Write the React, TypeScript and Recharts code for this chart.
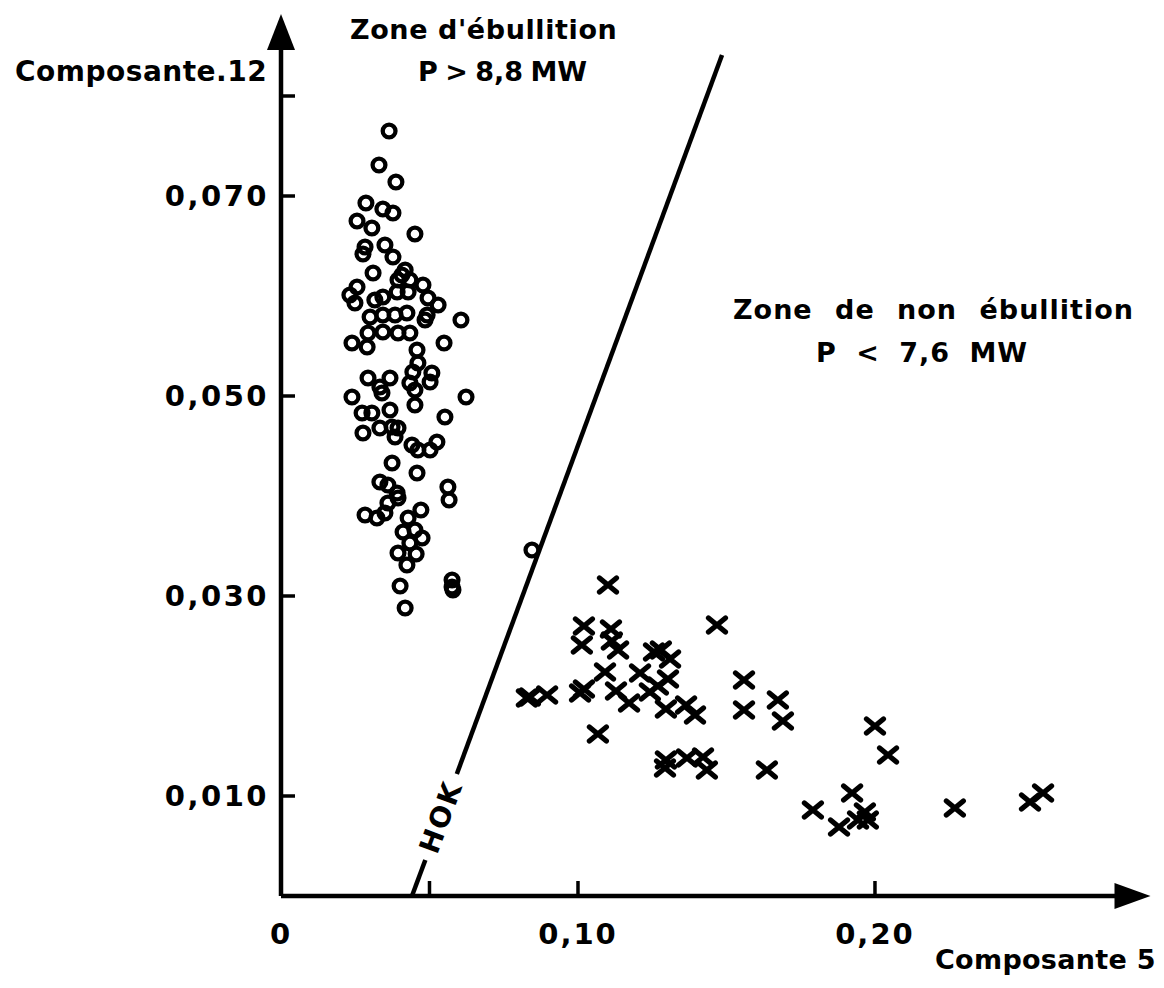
import { ReferenceDot, ReferenceLine, Scatter, ScatterChart, XAxis, YAxis } from "recharts"

const FONT = '"DejaVu Sans", Verdana, sans-serif'
const INK = "#000"

const xTicks = [0, 0.05, 0.1, 0.2]
const xTickLabels = ["0", "", "0,10", "0,20"]
const yTicks = [0.01, 0.03, 0.05, 0.07, 0.08]
const yTickLabels = ["0,010", "0,030", "0,050", "0,070", ""]

// zone d'ébullition (cercles) : [composante 5, composante 12]
const boiling: [number, number][] = [
  [0.0364, 0.0765], [0.033, 0.0731], [0.0387, 0.0714], [0.0286, 0.0693], [0.0343, 0.0687],
  [0.0377, 0.0683], [0.0256, 0.0675], [0.0306, 0.0668], [0.0451, 0.0662], [0.0283, 0.0649],
  [0.0276, 0.0642], [0.035, 0.0651], [0.0377, 0.0639], [0.031, 0.0623], [0.0407, 0.0621],
  [0.0434, 0.0616], [0.0418, 0.0626], [0.0394, 0.0616], [0.0256, 0.0609], [0.0232, 0.0601],
  [0.0478, 0.0611], [0.0343, 0.0599], [0.0391, 0.0604], [0.0428, 0.0604], [0.0316, 0.0596],
  [0.0249, 0.0593], [0.0495, 0.0598], [0.0529, 0.0591], [0.03, 0.0579], [0.0343, 0.0581],
  [0.0384, 0.0581], [0.0424, 0.0583], [0.0492, 0.0581], [0.0485, 0.0576], [0.0606, 0.0576],
  [0.0293, 0.0563], [0.0343, 0.0564], [0.0394, 0.0563], [0.0434, 0.0563], [0.0239, 0.0553],
  [0.029, 0.0549], [0.0549, 0.0553], [0.0458, 0.0546], [0.0461, 0.0533], [0.0444, 0.0524],
  [0.0508, 0.0523], [0.0502, 0.0514], [0.0293, 0.0518], [0.0367, 0.0518], [0.0333, 0.0509],
  [0.034, 0.0503], [0.0434, 0.0513], [0.0451, 0.0506], [0.0239, 0.0499], [0.0623, 0.0499],
  [0.0451, 0.0491], [0.0273, 0.0483], [0.0306, 0.0483], [0.0367, 0.0486], [0.0276, 0.0463],
  [0.0333, 0.0468], [0.0374, 0.0469], [0.0394, 0.0468], [0.0384, 0.0459], [0.0552, 0.0479],
  [0.0441, 0.0451], [0.0461, 0.0446], [0.0502, 0.0446], [0.0525, 0.0454], [0.0374, 0.0433],
  [0.0458, 0.0423], [0.0333, 0.0414], [0.036, 0.0411], [0.0562, 0.0409], [0.0391, 0.0403],
  [0.0394, 0.0398], [0.0566, 0.0396], [0.0283, 0.0381], [0.0323, 0.0378], [0.035, 0.0383],
  [0.036, 0.0393], [0.0471, 0.0386], [0.0428, 0.0378], [0.0411, 0.0364], [0.0451, 0.0366],
  [0.0475, 0.0358], [0.0434, 0.0353], [0.0394, 0.0343], [0.0455, 0.0342], [0.0424, 0.0331],
  [0.0401, 0.031], [0.0418, 0.0288], [0.0576, 0.0316], [0.0576, 0.0309], [0.0579, 0.0306],
  [0.0845, 0.0346],
]

// zone de non ébullition (croix)
const nonBoiling: [number, number][] = [
  [0.0828, 0.0198], [0.0838, 0.0199], [0.0896, 0.0201], [0.1101, 0.0311], [0.102, 0.027],
  [0.1013, 0.0251], [0.1111, 0.0267], [0.1114, 0.0255], [0.1135, 0.0246], [0.1256, 0.0244],
  [0.1279, 0.0246], [0.131, 0.0237], [0.1091, 0.0224], [0.1209, 0.0223], [0.1303, 0.0217],
  [0.102, 0.0207], [0.1007, 0.0203], [0.1128, 0.0205], [0.1172, 0.0193], [0.1242, 0.0204],
  [0.1269, 0.021], [0.1296, 0.0187], [0.1364, 0.0191], [0.1394, 0.0181], [0.1468, 0.0271],
  [0.1067, 0.0162], [0.1296, 0.0136], [0.1293, 0.0128], [0.1367, 0.0138], [0.1421, 0.0139],
  [0.1434, 0.0126], [0.1559, 0.0216], [0.1559, 0.0186], [0.1673, 0.0196], [0.169, 0.0175],
  [0.1636, 0.0126], [0.2, 0.017], [0.2044, 0.0141], [0.1923, 0.0103], [0.1791, 0.0086],
  [0.1879, 0.0069], [0.1943, 0.0076], [0.1966, 0.0084], [0.1976, 0.0076], [0.2269, 0.0088],
  [0.2522, 0.0094], [0.2566, 0.0103],
]

// droite HOK, coupée autour du libellé
const hokLow = [{ x: 0.0441, y: 0 }, { x: 0.0486, y: 0.0036 }]
const hokHigh = [{ x: 0.0592, y: 0.0122 }, { x: 0.1485, y: 0.0841 }]
const hokLabel = { x: 0.0539, y: 0.0079 }

const X_MAX = 0.282
const Y_MAX = 0.085

const boilingData = boiling.map(([x, y]) => ({ x, y }))
const nonBoilingData = nonBoiling.map(([x, y]) => ({ x, y }))

function Ring({ cx, cy }: any) {
  return <circle cx={cx} cy={cy} r={6.4} fill="none" stroke={INK} strokeWidth={4.3} />
}

function Cross({ cx, cy }: any) {
  return (
    <path
      d={`M${cx - 8.5} ${cy - 7}L${cx + 8.5} ${cy + 7}M${cx - 8.5} ${cy + 7}L${cx + 8.5} ${cy - 7}`}
      stroke={INK}
      strokeWidth={5.2}
      strokeLinecap="round"
    />
  )
}

// small inward tick marks, drawn from under the axis line
function YTick({ x, y, payload }: any) {
  const i = yTicks.indexOf(payload.value)
  const label = yTickLabels[i] ?? ""
  return (
    <g>
      <line x1={x} x2={x + 14} y1={y} y2={y} stroke={INK} strokeWidth={3.5} />
      <text
        x={x - 12}
        y={y}
        textAnchor="end"
        dominantBaseline="central"
        fontSize={29}
        fontWeight="bold"
        letterSpacing={2.5}
        fontFamily={FONT}
        fill={INK}
      >
        {label}
      </text>
    </g>
  )
}

function XTick({ x, y, payload }: any) {
  const i = xTicks.indexOf(payload.value)
  const label = xTickLabels[i] ?? ""
  return (
    <g>
      {payload.value !== 0 && <line x1={x} x2={x} y1={y} y2={y - 15} stroke={INK} strokeWidth={3.5} />}
      <text
        x={x}
        y={y + 38}
        textAnchor="middle"
        dominantBaseline="central"
        fontSize={29}
        fontWeight="bold"
        letterSpacing={2}
        fontFamily={FONT}
        fill={INK}
      >
        {label}
      </text>
    </g>
  )
}

const textStyle = {
  position: "absolute" as const,
  fontFamily: FONT,
  fontWeight: "bold" as const,
  fontSize: 27,
  color: INK,
  whiteSpace: "nowrap" as const,
  lineHeight: "32px",
}

export default function App() {
  return (
    <div style={{ position: "relative", width: 1150, height: 972, background: "#fff" }}>
      <ScatterChart width={1150} height={972} margin={{ top: 38, right: 39.5, bottom: 44, left: 153 }}>
        <XAxis
          type="number"
          dataKey="x"
          domain={[0, X_MAX]}
          ticks={xTicks}
          tick={<XTick />}
          tickSize={0}
          tickMargin={0}
          tickLine={false}
          height={40}
          axisLine={{ stroke: INK, strokeWidth: 4.5 }}
          allowDataOverflow
        />
        <YAxis
          type="number"
          dataKey="y"
          domain={[0, Y_MAX]}
          ticks={yTicks}
          tick={<YTick />}
          tickSize={0}
          tickMargin={0}
          tickLine={false}
          width={120}
          axisLine={{ stroke: INK, strokeWidth: 4.5 }}
          allowDataOverflow
        />
        <ReferenceLine segment={hokLow} stroke={INK} strokeWidth={4.5} />
        <ReferenceLine segment={hokHigh} stroke={INK} strokeWidth={4.5} />
        <ReferenceDot
          x={hokLabel.x}
          y={hokLabel.y}
          r={0}
          shape={(p: any) => (
            <text
              x={p.cx}
              y={p.cy}
              transform={`rotate(-69.7 ${p.cx} ${p.cy})`}
              textAnchor="middle"
              dominantBaseline="central"
              fontSize={28}
              fontWeight="bold"
              letterSpacing={2}
              fontFamily={FONT}
              fill={INK}
            >
              HOK
            </text>
          )}
        />
        <ReferenceDot
          x={X_MAX}
          y={0}
          r={0}
          shape={(p: any) => (
            <polygon
              points={`${p.cx - 4},${p.cy - 13} ${p.cx + 32},${p.cy} ${p.cx - 4},${p.cy + 13}`}
              fill={INK}
            />
          )}
        />
        <ReferenceDot
          x={0}
          y={Y_MAX}
          r={0}
          shape={(p: any) => (
            <polygon
              points={`${p.cx - 14},${p.cy + 4} ${p.cx},${p.cy - 32} ${p.cx + 14},${p.cy + 4}`}
              fill={INK}
            />
          )}
        />
        <Scatter data={boilingData} shape={<Ring />} isAnimationActive={false} />
        <Scatter data={nonBoilingData} shape={<Cross />} isAnimationActive={false} />
      </ScatterChart>

      <div style={{ ...textStyle, left: 7, top: 48, fontSize: 28, letterSpacing: 0.5 }}>Composante.12</div>
      <div style={{ ...textStyle, left: 342, top: 6, letterSpacing: 0.6 }}>Zone d'ébullition</div>
      <div style={{ ...textStyle, left: 410, top: 48, wordSpacing: -2 }}>P &gt; 8,8 MW</div>
      <div style={{ ...textStyle, left: 725, top: 286, letterSpacing: 1, wordSpacing: 12 }}>
        Zone de non ébullition
      </div>
      <div style={{ ...textStyle, left: 808, top: 329, letterSpacing: 1, wordSpacing: 9 }}>P &lt; 7,6 MW</div>
      <div style={{ ...textStyle, left: 927, top: 936, letterSpacing: 0.3 }}>Composante 5</div>
    </div>
  )
}
